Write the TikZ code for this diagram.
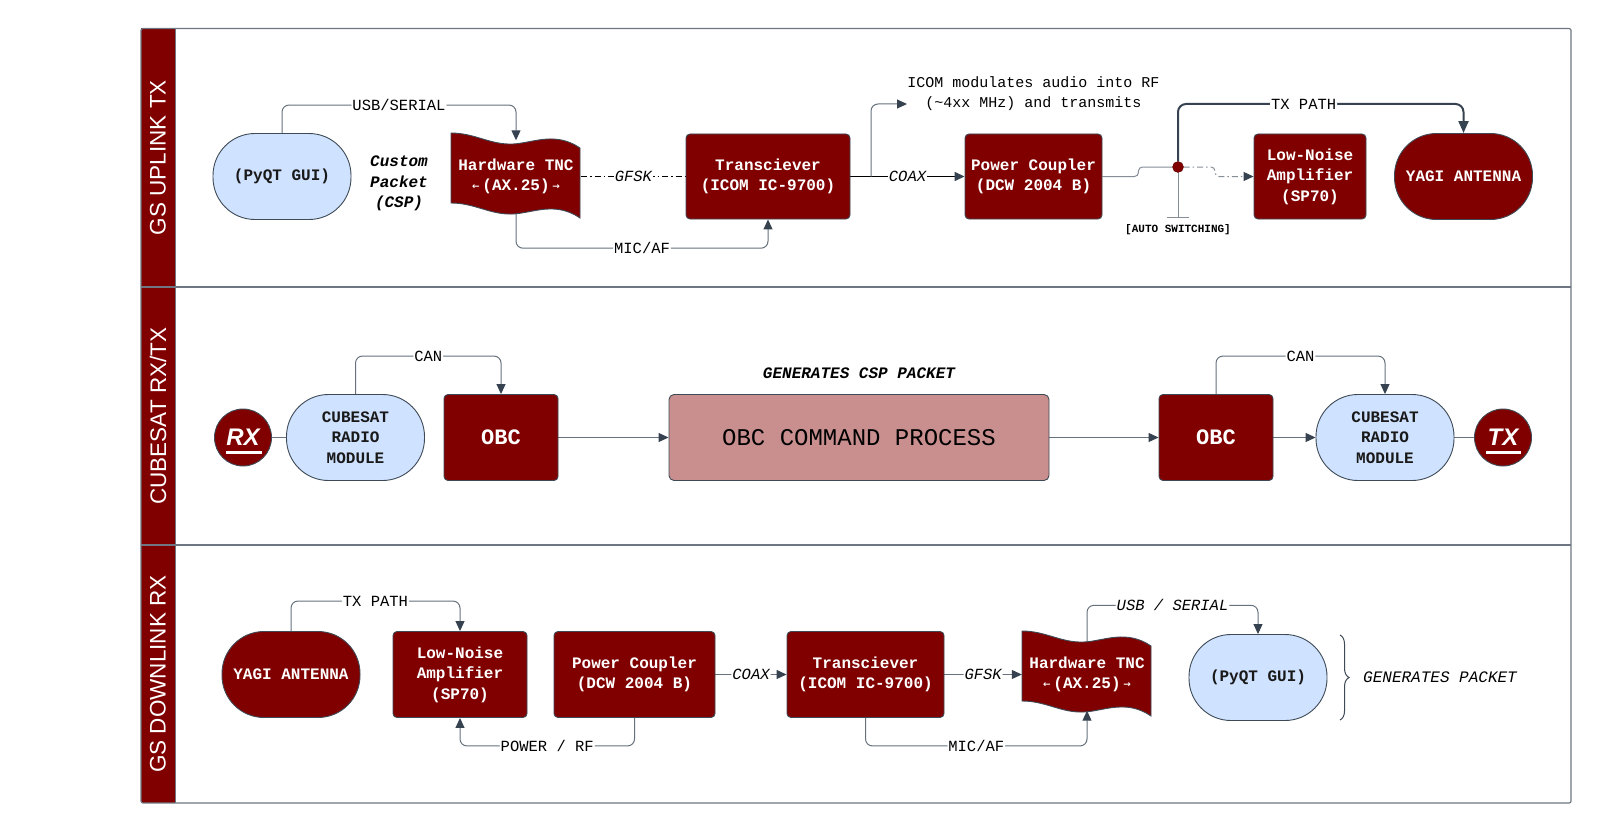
\documentclass[tikz,border=0pt]{standalone}
\usepackage{fontspec}
\setmainfont{Liberation Sans}
\setmonofont{Liberation Mono}
\newfontfamily\arrowfont{DejaVu Sans}
\usetikzlibrary{arrows.meta,backgrounds,decorations.pathreplacing}

\definecolor{lanered}{HTML}{800000}
\definecolor{guiblue}{HTML}{CFE2FF}
\definecolor{procpink}{HTML}{C98F8F}
\definecolor{edgegray}{HTML}{3E4A56}
\definecolor{linkgray}{HTML}{66717C}
\definecolor{tipgray}{HTML}{36424F}
\definecolor{framegray}{HTML}{6E7781}

\newcommand{\fsz}[2]{\fontsize{#1}{#2}\selectfont}
\newcommand{\axtag}{\raisebox{1.5pt}{\arrowfont\fsz{9}{9}←}\,(AX.25)\,\raisebox{1.5pt}{\arrowfont\fsz{9}{9}→}}
% wavy TNC outline round a centre
\newcommand{\tape}[1]{%
 \filldraw[tapeline, shift={#1}] (-65,-43.5) .. controls (-41,-43.5) and (-26,-31.5) .. (-3,-32.5)
  .. controls (17,-33.5) and (39,-45.5) .. (64,-28.5) -- (64,41.5)
  .. controls (39,24.5) and (17,36.5) .. (-3,37.5)
  .. controls (-26,38.5) and (-41,26.5) .. (-65,26.5) -- cycle;}

\tikzset{
 hw/.style={draw=edgegray, line width=0.9pt, fill=lanered, rounded corners=4pt, text=white, align=center,
  font=\ttfamily\bfseries\fsz{16}{20.4}, minimum height=85pt, inner sep=2pt},
 pill/.style={draw=edgegray, line width=0.9pt, fill=guiblue, rounded corners=42pt, text=black!90, align=center,
  font=\ttfamily\bfseries\fsz{16}{20.4}, minimum width=138pt, minimum height=86pt, inner sep=2pt},
 antenna/.style={pill, fill=lanered, text=white},
 tnc/.style={align=center, text=white, font=\ttfamily\bfseries\fsz{16}{20.4}, minimum width=130pt, minimum height=72pt, inner sep=0pt},
 tapeline/.style={draw=edgegray, line width=0.9pt, fill=lanered},
 port/.style={circle, draw=edgegray, line width=0.9pt, fill=lanered, minimum size=57pt, inner sep=0pt, text=white,
  font=\bfseries\itshape\fsz{24}{24}},
 proc/.style={draw=edgegray, line width=0.9pt, fill=procpink, rounded corners=5pt, font=\ttfamily\fsz{24}{24},
  minimum width=380pt, minimum height=86pt},
 lanetitle/.style={rotate=90, text=white, font=\fsz{22.5}{22.5}},
 remark/.style={align=center, font=\ttfamily\fsz{15}{19.4}},
 boldremark/.style={align=center, font=\ttfamily\bfseries\itshape\fsz{16}{20.4}},
 swtag/.style={font=\ttfamily\bfseries\fsz{11}{11}},
 junction/.style={circle, fill=lanered, draw=lanered!70!black, minimum size=11pt, inner sep=0pt},
 link/.style={draw=linkgray, line width=1pt, rounded corners=7pt},
 arr/.style={-{Triangle[length=10pt,width=9pt,color=tipgray]}},
 lbl/.style={fill=white, inner sep=1pt, text=black, font=\ttfamily\fsz{15.5}{18}},
 ilbl/.style={lbl, font=\ttfamily\itshape\fsz{15.5}{18}},
}

\begin{document}
\begin{tikzpicture}[x=1pt,y=-1pt]
\useasboundingbox (0,0) rectangle (1600,832);

% lanes
\fill[lanered] (141,28.5) rectangle (175,803);
\draw[framegray, line width=1.2pt, rounded corners=2pt] (141,28.5) rectangle (1571,803);
\foreach \y in {287,545}
 \draw[framegray, line width=1.2pt] (141,\y) -- (1571,\y);
\draw[framegray, line width=0.8pt] (175,28.5) -- (175,803);
\node[lanetitle] (laneUp) at (158,157.5) {GS UPLINK TX};
\node[lanetitle] (laneSat) at (158,416) {CUBESAT RX/TX};
\node[lanetitle] (laneDown) at (158,674) {GS DOWNLINK RX};

% uplink
\node[pill] (guiA) at (282,176.5) {(PyQT GUI)};
\node[boldremark] (cspA) at (399,183.5) {Custom\\Packet\\(CSP)};
\tape{(516,176.5)}
\node[tnc] (tncA) at (516,176.5) {Hardware TNC\\\axtag};
\node[hw, minimum width=164pt] (trxA) at (768,176.5) {Transciever\\(ICOM IC-9700)};
\node[hw, minimum width=137pt] (pcA) at (1033.5,176.5) {Power Coupler\\(DCW 2004 B)};
\node[hw, minimum width=112pt] (lnaA) at (1310,176.5) {Low-Noise\\Amplifier\\(SP70)};
\node[antenna] (yagiA) at (1463.5,176.5) {YAGI ANTENNA};
\node[remark] (icomA) at (1033.5,93.5) {ICOM modulates audio into RF\\(\textasciitilde4xx MHz) and transmits};
\node[junction] (sw) at (1178,167) {};
\node[swtag] (autoSw) at (1178,229.5) {[AUTO SWITCHING]};
\coordinate (swEnd) at (1178,218);
\coordinate (tapA) at (871,176.5);
\coordinate (icomTip) at (907,104);

% cubesat
\node[port] (rxC) at (243,437.5) {RX};
\draw[white, line width=2.6pt] ([shift={(-17,15)}]rxC.center) -- ([shift={(19,15)}]rxC.center);
\node[pill] (radioL) at (355.5,437.5) {CUBESAT\\RADIO\\MODULE};
\node[hw, minimum width=114pt, minimum height=86pt, font=\ttfamily\bfseries\fsz{22}{22}] (obcL) at (501,437.5) {OBC};
\node[proc] (ocp) at (859,437.5) {OBC COMMAND PROCESS};
\node[boldremark] (cspGen) at (859,373) {GENERATES CSP PACKET};
\node[hw, minimum width=114pt, minimum height=86pt, font=\ttfamily\bfseries\fsz{22}{22}] (obcR) at (1216,437.5) {OBC};
\node[pill] (radioR) at (1385,437.5) {CUBESAT\\RADIO\\MODULE};
\node[port] (txC) at (1503,437.5) {TX};
\draw[white, line width=2.6pt] ([shift={(-17,15)}]txC.center) -- ([shift={(18,15)}]txC.center);

% downlink
\node[antenna] (yagiB) at (291,674.5) {YAGI ANTENNA};
\node[hw, minimum width=134pt, minimum height=86pt] (lnaB) at (460,674.5) {Low-Noise\\Amplifier\\(SP70)};
\node[hw, minimum width=161pt, minimum height=86pt] (pcB) at (634.5,674.5) {Power Coupler\\(DCW 2004 B)};
\node[hw, minimum width=157pt, minimum height=86pt] (trxB) at (865.5,674.5) {Transciever\\(ICOM IC-9700)};
\tape{(1087,674.5)}
\node[tnc] (tncB) at (1087,674.5) {Hardware TNC\\\axtag};
\node[pill] (guiB) at (1258,677.5) {(PyQT GUI)};
\coordinate (braceTop) at (1340,635);
\coordinate (braceBot) at (1340,720);
\node[remark, font=\ttfamily\itshape\fsz{16}{18}] (genPkt) at (1440,677.5) {GENERATES PACKET};

\begin{scope}[on background layer]
 % uplink links
 \draw[link,arr] (guiA.north) -- ++(0,-28) -| node[lbl,pos=0.25]{USB/SERIAL} (tncA.north);
 \draw[black, line width=1pt, dash pattern=on 6pt off 3pt on 1.5pt off 3pt] (tncA.east) -- node[ilbl]{GFSK} (trxA.west);
 \draw[link,arr] (tncA.south) -- ++(0,35.5) -| node[lbl,pos=0.25]{MIC/AF} (trxA.south);
 \draw[black, line width=1.4pt, arr] (trxA.east) -- node[ilbl]{COAX} (pcA.west);
 \draw[link,arr] (tapA) |- (icomTip);
 \draw[link, draw=linkgray!80, rounded corners=4pt] (pcA.east) -- ++(36,0) -- ++(0,-9.5) -- (sw);
 \draw[link, draw=linkgray!80, -{Bar[width=22pt]}] (sw) -- (swEnd);
 \draw[link, draw=linkgray!80, rounded corners=4pt, dash pattern=on 6pt off 3pt on 1.5pt off 3pt, arr]
  (sw) -- ++(37,0) -- ++(0,9.5) -- (lnaA.west);
 \draw[line width=2pt, draw=tipgray, rounded corners=8pt, -{Triangle[length=12pt,width=10pt,color=tipgray]}]
  (sw) -- ++(0,-63) -| node[lbl,pos=0.22]{TX PATH} (yagiA.north);
 % cubesat links
 \draw[link] (rxC) -- (radioL);
 \draw[link,arr] (radioL.north) -- ++(0,-38) -| node[lbl,pos=0.25]{CAN} (obcL.north);
 \draw[link,arr] (obcL) -- (ocp);
 \draw[link,arr] (ocp) -- (obcR);
 \draw[link,arr] (obcR.north) -- ++(0,-38) -| node[lbl,pos=0.25]{CAN} (radioR.north);
 \draw[link,arr] (obcR) -- (radioR);
 \draw[link] (radioR) -- (txC);
 % downlink links
 \draw[link,arr] (yagiB.north) -- ++(0,-30) -| node[lbl,pos=0.25]{TX PATH} (lnaB.north);
 \draw[link,arr] (pcB.south) -- ++(0,28) -| node[lbl,pos=0.25]{POWER / RF} (lnaB.south);
 \draw[link,arr] (pcB) -- node[ilbl]{COAX} (trxB);
 \draw[link,arr] (trxB) -- node[ilbl]{GFSK} (tncB);
 \draw[link,arr] (trxB.south) -- ++(0,28) -| node[lbl,pos=0.25]{MIC/AF} (tncB.south);
 \draw[link,arr] ([yshift=-6pt]tncB.north) -- ++(0,-39) -| node[ilbl,pos=0.25]{USB / SERIAL} (guiB.north);
 \draw[decorate, decoration={brace, amplitude=9pt}, draw=edgegray, line width=1pt] (braceTop) -- (braceBot);
\end{scope}

\end{tikzpicture}
\end{document}
